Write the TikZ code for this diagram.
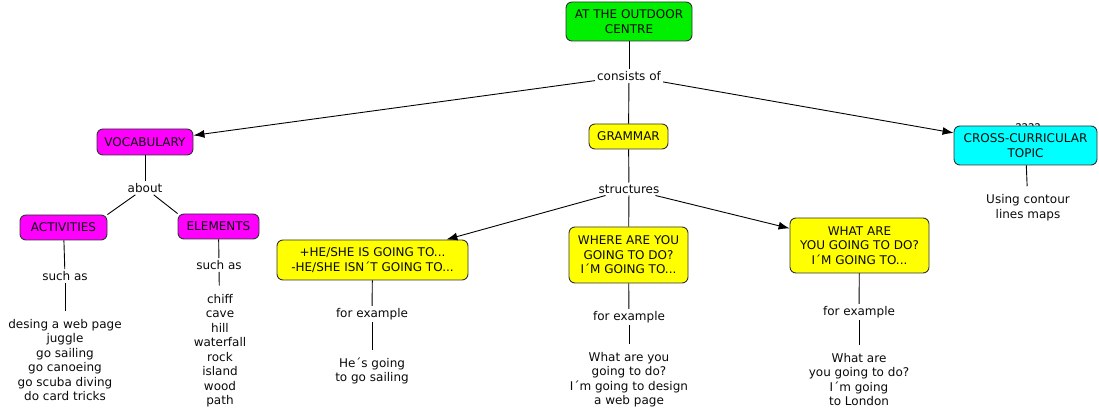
\documentclass[tikz,border=0pt]{standalone}
\usepackage{fontspec}
\setmainfont{DejaVu Sans}
\usetikzlibrary{arrows.meta}
\definecolor{bgreen}{RGB}{0,240,0}
\definecolor{bmag}{RGB}{255,0,255}
\definecolor{byel}{RGB}{255,255,0}
\definecolor{bcyan}{RGB}{0,255,255}
\definecolor{bord}{RGB}{50,50,50}
\definecolor{txt}{RGB}{10,10,10}
\begin{document}
\begin{tikzpicture}[x=1pt,y=-1pt,
  every node/.style={font=\fontsize{12}{14.5}\selectfont, text=txt},
  box/.style={draw=bord, line width=0.9pt, rounded corners=6pt, align=center, inner sep=1pt},
  lbl/.style={align=center, inner sep=2pt},
  lst/.style={align=center, inner xsep=2pt, inner ysep=8pt},
  conn/.style={draw=black, line width=0.9pt},
  arr/.style={conn, -{Latex[length=11pt,width=8pt]}}]
\useasboundingbox (0,0) rectangle (1099,419);
% hidden label behind cross box
\node (q) at (1028,128) {????};
% boxes
\node[box, fill=bgreen, minimum width=126pt, minimum height=39pt] (top) at (629,21.5) {AT THE OUTDOOR\\CENTRE};
\node[box, fill=bmag, minimum width=96pt, minimum height=26pt] (vocab) at (145,142) {VOCABULARY};
\node[box, fill=byel, minimum width=79pt, minimum height=25pt] (gram) at (628.5,136.5) {GRAMMAR};
\node[box, fill=bcyan, minimum width=143pt, minimum height=39pt] (cross) at (1025.5,145.5) {CROSS-CURRICULAR\\TOPIC};
\node[box, fill=bmag, minimum width=87pt, minimum height=25pt] (acts) at (63.5,227.5) {ACTIVITIES};
\node[box, fill=bmag, minimum width=81pt, minimum height=25pt] (elem) at (218.5,226.5) {ELEMENTS};
\node[box, fill=byel, minimum width=191pt, minimum height=40pt] (plus) at (372.5,260) {+HE/SHE IS GOING TO...\\-HE/SHE ISN´T GOING TO...};
\node[box, fill=byel, minimum width=119pt, minimum height=56pt] (where) at (628.5,255) {WHERE ARE YOU\\GOING TO DO?\\I´M GOING TO...};
\node[box, fill=byel, minimum width=139pt, minimum height=55pt] (what) at (859.5,245.5) {WHAT ARE\\YOU GOING TO DO?\\I´M GOING TO...};
% labels
\node[lbl] (consists) at (629,76) {consists of};
\node[lbl] (about) at (145,188) {about};
\node[lbl] (structures) at (629,189) {structures};
\node[lbl] (suchA) at (65,276) {such as};
\node[lbl] (suchE) at (219,265) {such as};
\node[lbl] (feP) at (372,314) {for example};
\node[lbl] (feW) at (629,317) {for example};
\node[lbl] (feH) at (859,312) {for example};
% leaf texts
\node[lst] (using) at (1028,207.5) {Using contour\\lines maps};
\node[lst] (actlist) at (65,360) {desing a web page\\juggle\\go sailing\\go canoeing\\go scuba diving\\do card tricks};
\node[lst] (elemlist) at (220,350.5) {chiff\\cave\\hill\\waterfall\\rock\\island\\wood\\path};
\node[lst] (hes) at (372,371) {He´s going\\to go sailing};
\node[lst] (exW) at (629,379.5) {What are you\\going to do?\\I´m going to design\\a web page};
\node[lst] (exH) at (859,379.5) {What are\\you going to do?\\I´m going\\to London};
% connectors
\draw[conn] (top) -- (consists);
\draw[conn] (consists) -- (gram);
\draw[arr] (consists) -- (vocab);
\draw[arr] (consists) -- (cross);
\draw[conn] (cross) -- (using);
\draw[conn] (vocab) -- (about);
\draw[conn] (about) -- (acts.north east);
\draw[conn] (about) -- (elem.north west);
\draw[conn] (acts) -- (suchA);
\draw[conn] (suchA) -- (actlist);
\draw[conn] (elem) -- (suchE);
\draw[conn] (suchE) -- (elemlist);
\draw[conn] (gram) -- (structures);
\draw[conn] (structures) -- (where);
\draw[arr] (structures) -- (plus);
\draw[arr] (structures) -- (what);
\draw[conn] (plus) -- (feP);
\draw[conn] (feP) -- (hes);
\draw[conn] (where) -- (feW);
\draw[conn] (feW) -- (exW);
\draw[conn] (what) -- (feH);
\draw[conn] (feH) -- (exH);
\end{tikzpicture}
\end{document}
